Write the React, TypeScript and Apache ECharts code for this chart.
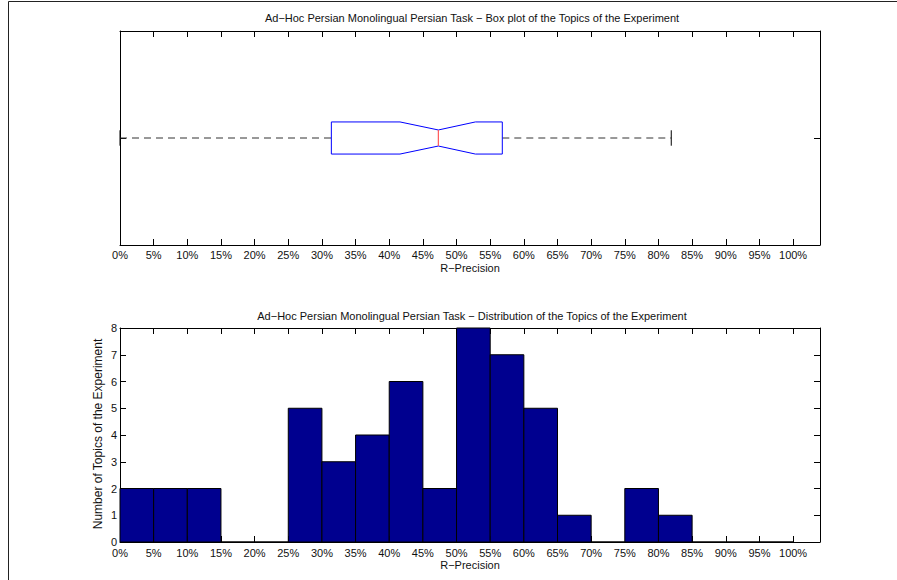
import React, { useEffect, useRef } from "react";
import * as echarts from "echarts";

// ---- data ----
const boxTitle = "Ad\u2212Hoc Persian Monolingual Persian Task \u2212 Box plot of the Topics of the Experiment";
const histTitle = "Ad\u2212Hoc Persian Monolingual Persian Task \u2212 Distribution of the Topics of the Experiment";
const xAxisName = "R\u2212Precision";
const yAxisName = "Number of Topics of the Experiment";

// box plot statistics (R-Precision, %): min, q1, notch low, median, notch high, q3, max
const boxValues = [0, 31.4, 41.6, 47.3, 52.8, 56.8, 81.9];

// histogram bins (start, %), width 5%
const binStarts = [0, 5, 10, 15, 20, 25, 30, 35, 40, 45, 50, 55, 60, 65, 70, 75, 80, 85, 90, 95];
const binCounts = [2, 2, 2, 0, 0, 5, 3, 4, 6, 2, 8, 7, 5, 1, 0, 2, 1, 0, 0, 0];
const binWidth = 5;

const xMin = 0;
const xMax = 104;
const xInterval = 5;
const yCountTicks = [0, 1, 2, 3, 4, 5, 6, 7, 8];

const FONT = "'Liberation Sans', Arial, Helvetica, sans-serif";
const FS = 11;

export default function App() {
  const ref = useRef<HTMLDivElement>(null);
  useEffect(() => {
    if (!ref.current) return;
    const chart = echarts.init(ref.current, null, { renderer: "svg" });

    const pctFmt = (v: number) => (v <= 100 ? `${v}%` : "");
    const tickStyle = { show: true, inside: true, length: 6, lineStyle: { color: "#000", width: 1 } };
    const lineStyle = { show: true, onZero: false, lineStyle: { color: "#000", width: 1 } };

    const makeX = (gridIndex: number, withLabels: boolean, position: "bottom" | "top", margin: number) => ({
      type: "value",
      gridIndex,
      position,
      min: xMin,
      max: xMax,
      interval: xInterval,
      axisLine: lineStyle,
      axisTick: tickStyle,
      splitLine: { show: false },
      axisLabel: withLabels
        ? { show: true, formatter: pctFmt, margin, fontSize: FS, lineHeight: 11, color: "#111", fontFamily: FONT, showMaxLabel: false }
        : { show: false },
      name: withLabels ? xAxisName : "",
      nameLocation: "middle",
      nameGap: 17,
      nameMoveOverlap: false,
      nameTextStyle: { fontSize: FS, color: "#111", fontFamily: FONT },
    });

    const boxHalf = 0.075;
    const notchHalf = 0.0375;
    const capHalf = 0.036;

    const option: any = {
      animation: false,
      backgroundColor: "#fff",
      title: [
        {
          text: boxTitle,
          left: 472,
          top: 12,
          textAlign: "center",
          padding: 0,
          textStyle: { fontSize: FS, fontWeight: "normal", color: "#111", fontFamily: FONT },
        },
        {
          text: histTitle,
          left: 472,
          top: 310,
          textAlign: "center",
          padding: 0,
          textStyle: { fontSize: FS, fontWeight: "normal", color: "#111", fontFamily: FONT },
        },
      ],
      grid: [
        { left: 120, top: 31, width: 700, height: 214, containLabel: false },
        { left: 120, top: 328, width: 700, height: 214, containLabel: false },
      ],
      xAxis: [
        makeX(0, true, "bottom", 4),
        makeX(0, false, "top", 4),
        makeX(1, true, "bottom", 5),
        makeX(1, false, "top", 4),
      ],
      yAxis: [
        {
          type: "value",
          gridIndex: 0,
          position: "left",
          min: 0.5,
          max: 1.5,
          interval: 0.5,
          axisLine: lineStyle,
          axisTick: tickStyle,
          axisLabel: { show: false },
          splitLine: { show: false },
        },
        {
          type: "value",
          gridIndex: 0,
          position: "right",
          min: 0.5,
          max: 1.5,
          interval: 0.5,
          axisLine: lineStyle,
          axisTick: tickStyle,
          axisLabel: { show: false },
          splitLine: { show: false },
        },
        {
          type: "value",
          gridIndex: 1,
          position: "left",
          min: yCountTicks[0],
          max: yCountTicks[yCountTicks.length - 1],
          interval: 1,
          axisLine: lineStyle,
          axisTick: tickStyle,
          axisLabel: { show: true, margin: 3, fontSize: FS, lineHeight: 9, color: "#111", fontFamily: FONT },
          splitLine: { show: false },
        },
        {
          type: "value",
          gridIndex: 1,
          position: "right",
          min: yCountTicks[0],
          max: yCountTicks[yCountTicks.length - 1],
          interval: 1,
          axisLine: lineStyle,
          axisTick: tickStyle,
          axisLabel: { show: false },
          splitLine: { show: false },
        },
      ],
      series: [
        {
          type: "custom",
          xAxisIndex: 0,
          yAxisIndex: 0,
          data: [boxValues],
          encode: { x: [0, 1, 2, 3, 4, 5, 6] },
          z: 3,
          renderItem: (params: any, api: any) => {
            const [mn, q1, nLo, med, nHi, q3, mx] = [0, 1, 2, 3, 4, 5, 6].map((i) => api.value(i));
            const c = 1;
            const P = (x: number, y: number) => api.coord([x, y]);
            const boxPts = [
              P(q1, c + boxHalf),
              P(nLo, c + boxHalf),
              P(med, c + notchHalf),
              P(nHi, c + boxHalf),
              P(q3, c + boxHalf),
              P(q3, c - boxHalf),
              P(nHi, c - boxHalf),
              P(med, c - notchHalf),
              P(nLo, c - boxHalf),
              P(q1, c - boxHalf),
            ];
            const dash = { stroke: "#333", lineWidth: 1, lineDash: [7, 5], fill: "none" };
            const a1 = P(mn, c), a2 = P(q1, c), b1 = P(q3, c), b2 = P(mx, c);
            const m1 = P(med, c + notchHalf), m2 = P(med, c - notchHalf);
            const cu1 = P(mx, c + capHalf), cu2 = P(mx, c - capHalf);
            const cl1 = P(mn, c + capHalf), cl2 = P(mn, c - capHalf);
            return {
              type: "group",
              children: [
                { type: "line", shape: { x1: a1[0], y1: a1[1], x2: a2[0], y2: a2[1] }, style: dash },
                { type: "line", shape: { x1: b1[0], y1: b1[1], x2: b2[0], y2: b2[1] }, style: dash },
                { type: "line", shape: { x1: cu1[0], y1: cu1[1], x2: cu2[0], y2: cu2[1] }, style: { stroke: "#000", lineWidth: 1 } },
                { type: "line", shape: { x1: cl1[0], y1: cl1[1], x2: cl2[0], y2: cl2[1] }, style: { stroke: "#000", lineWidth: 1 } },
                { type: "polygon", shape: { points: boxPts }, style: { fill: "none", stroke: "#0000ff", lineWidth: 1 } },
                { type: "line", shape: { x1: m1[0], y1: m1[1], x2: m2[0], y2: m2[1] }, style: { stroke: "#ff5a5a", lineWidth: 1.2 } },
              ],
            };
          },
        },
        {
          type: "custom",
          xAxisIndex: 2,
          yAxisIndex: 2,
          data: binStarts.map((s, i) => [s, s + binWidth, binCounts[i]]),
          encode: { x: [0, 1], y: 2 },
          z: 3,
          renderItem: (params: any, api: any) => {
            const lo = api.value(0), hi = api.value(1), cnt = api.value(2);
            const p1 = api.coord([lo, cnt]);
            const p2 = api.coord([hi, 0]);
            return {
              type: "rect",
              shape: { x: p1[0], y: p1[1], width: p2[0] - p1[0], height: p2[1] - p1[1] },
              style: { fill: "#00008f", stroke: "#000", lineWidth: 1 },
            };
          },
        },
      ],
      graphic: [
        {
          type: "rect",
          silent: true,
          shape: { x: 8.5, y: 1.5, width: 1000, height: 1000 },
          style: { fill: "none", stroke: "#222", lineWidth: 1 },
          z: 10,
        },
        {
          type: "text",
          silent: true,
          x: 98,
          y: 434,
          rotation: Math.PI / 2,
          style: {
            text: yAxisName,
            fontSize: 12,
            fontFamily: FONT,
            fill: "#111",
            textAlign: "center",
            textVerticalAlign: "middle",
          },
        },
      ],
    };

    chart.setOption(option);
    return () => chart.dispose();
  }, []);

  return (
    <div
      ref={ref}
      style={{ position: "fixed", left: 0, top: 0, width: 897, height: 580, background: "#fff" }}
    />
  );
}
